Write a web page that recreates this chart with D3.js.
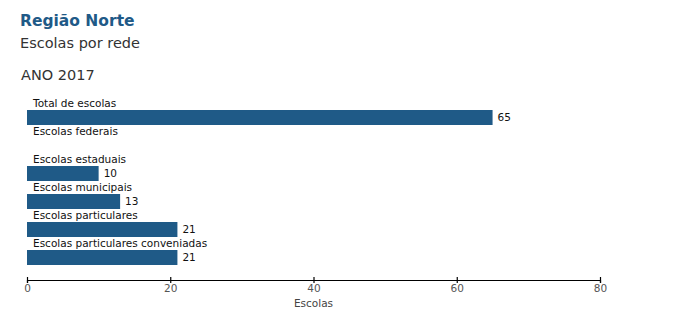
<!DOCTYPE html>
<html>
<head>
<meta charset="utf-8">
<script src="https://cdn.jsdelivr.net/npm/d3@7"></script>
<style>
  html, body { margin: 0; padding: 0; background: #fff; }
  svg { display: block; font-family: "DejaVu Sans", Verdana, sans-serif; }
</style>
</head>
<body>
<svg id="chart" width="690" height="330"></svg>
<script>
// Escolas por rede, Região Norte, 2017
const categories = [
  "Total de escolas",
  "Escolas federais",
  "Escolas estaduais",
  "Escolas municipais",
  "Escolas particulares",
  "Escolas particulares conveniadas"
];
const values = [65, null, 10, 13, 21, 21];
const tickValues = [0, 20, 40, 60, 80];

const title = "Região Norte";
const subtitle = "Escolas por rede";
const yearLabel = "ANO 2017";
const axisTitle = "Escolas";

const barColor = "#1f5a87";

const svg = d3.select("#chart");

// header texts
svg.append("text")
  .attr("x", 20).attr("y", 26)
  .attr("fill", "#1f5a87")
  .attr("font-size", "15.5px")
  .attr("font-weight", "bold")
  .text(title);

svg.append("text")
  .attr("x", 20).attr("y", 48)
  .attr("fill", "#333")
  .attr("font-size", "14.5px")
  .text(subtitle);

svg.append("text")
  .attr("x", 21).attr("y", 80)
  .attr("fill", "#333")
  .attr("font-size", "14.5px")
  .text(yearLabel);

// scales
const x = d3.scaleLinear().domain([0, 80]).range([27, 600]);
const y = d3.scaleBand()
  .domain(categories)
  .range([110, 265])
  .paddingInner(0.4643)
  .paddingOuter(0)
  .align(0);

const rows = categories.map((c, i) => ({ cat: c, value: values[i] }));

// category labels above each bar
svg.append("g").selectAll("text")
  .data(rows)
  .join("text")
  .attr("x", 33)
  .attr("y", d => y(d.cat) - 3)
  .attr("font-size", "10.5px")
  .attr("fill", "#111")
  .text(d => d.cat);

// bars
svg.append("g").selectAll("rect")
  .data(rows.filter(d => d.value != null))
  .join("rect")
  .attr("x", x(0))
  .attr("y", d => y(d.cat))
  .attr("width", d => x(d.value) - x(0))
  .attr("height", y.bandwidth())
  .attr("fill", barColor);

// value labels
svg.append("g").selectAll("text")
  .data(rows.filter(d => d.value != null))
  .join("text")
  .attr("x", d => x(d.value) + 5)
  .attr("y", d => y(d.cat) + y.bandwidth() / 2)
  .attr("dy", "0.35em")
  .attr("font-size", "10.5px")
  .attr("fill", "#111")
  .text(d => d.value);

// x axis
const axisY = 280;
const gx = svg.append("g")
  .attr("transform", `translate(0,${axisY})`)
  .call(d3.axisBottom(x).tickValues(tickValues).tickSizeOuter(0).tickSize(3).tickPadding(2));

gx.select(".domain").attr("stroke", "#000").attr("stroke-width", 1.2);
gx.selectAll(".tick line").attr("y1", -3).attr("y2", 3).attr("stroke", "#000").attr("stroke-width", 1.2);
gx.selectAll(".tick text")
  .attr("font-family", "DejaVu Sans, Verdana, sans-serif")
  .attr("font-size", "10.5px")
  .attr("fill", "#555");

svg.append("text")
  .attr("x", (x.range()[0] + x.range()[1]) / 2)
  .attr("y", 307)
  .attr("text-anchor", "middle")
  .attr("font-size", "10.5px")
  .attr("fill", "#444")
  .text(axisTitle);
</script>
</body>
</html>
